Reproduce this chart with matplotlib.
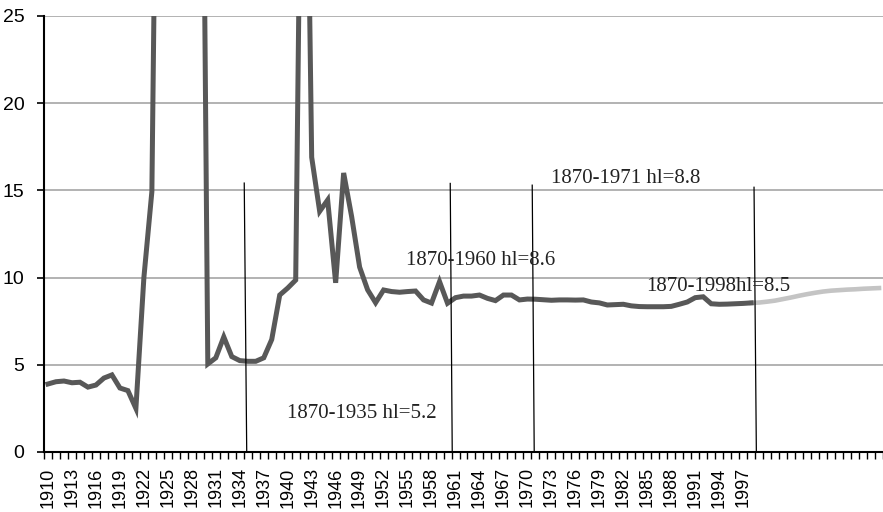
import matplotlib
matplotlib.use("Agg")
import matplotlib.pyplot as plt
import numpy as np

# observed series 1910-1998 (values above 25 run off the top of the chart)
years_obs = list(range(1910, 1999))
values_obs = [
    3.9, 4.03, 4.07, 3.97, 4.0, 3.72, 3.84, 4.24, 4.42, 3.67,   # 1910-1919
    3.52, 2.5, 10.0, 14.93, 55.0, 80.0, 100.0, 90.0, 70.0, 58.0,  # 1920-1929
    5.05, 5.4, 6.6, 5.47, 5.24, 5.2, 5.2, 5.4, 6.45, 9.0,        # 1930-1939
    9.4, 9.86, 50.0, 16.9, 13.8, 14.45, 9.7, 16.0, 13.5, 10.6,   # 1940-1949
    9.3, 8.56, 9.29, 9.2, 9.16, 9.2, 9.23, 8.72, 8.54, 9.77,     # 1950-1959
    8.53, 8.85, 8.94, 8.94, 9.0, 8.81, 8.68, 9.0, 9.0, 8.72,     # 1960-1969
    8.77, 8.76, 8.73, 8.7, 8.72, 8.72, 8.71, 8.72, 8.6, 8.55,    # 1970-1979
    8.43, 8.45, 8.47, 8.38, 8.34, 8.33, 8.33, 8.33, 8.35, 8.47,  # 1980-1989
    8.6, 8.85, 8.9, 8.5, 8.47, 8.48, 8.5, 8.52, 8.55,            # 1990-1998
]

# projected series 1998-2014
years_proj = list(range(1998, 2015))
values_proj = [
    8.55, 8.57, 8.62, 8.68, 8.77, 8.86, 8.96, 9.05, 9.13,
    9.2, 9.25, 9.28, 9.31, 9.33, 9.36, 9.38, 9.4,
]

# sample-end markers: (x top, y top, x bottom)
marker_x_top = [1934.56, 1960.34, 1970.6, 1998.36]
marker_y_top = [15.42, 15.4, 15.3, 15.18]
marker_x_bot = [1934.87, 1960.59, 1970.85, 1998.65]

# half-life annotations
note_text = ["1870-1935 hl=5.2", "1870-1960 hl=8.6", "1870-1971 hl=8.8", "1870-1998hl=8.5"]
note_x = [1939.96, 1954.85, 1973.0, 1984.85]
note_y = [1.95, 10.72, 15.42, 9.22]

label_years = list(range(1910, 1998, 3))

fig = plt.figure(figsize=(8.83, 5.12), dpi=100)
ax = fig.add_axes([44 / 883, 60 / 512, 839 / 883, 436 / 512])

for yv in [5, 10, 15, 20, 25]:
    ax.axhline(yv, color="#a6a6a6", linewidth=1.2, zorder=1)

ax.plot(years_proj, values_proj, color="#c4c4c4", linewidth=3.3, zorder=3,
        solid_joinstyle="miter")
ax.plot(years_obs, values_obs, color="#585858", linewidth=3.6, zorder=4,
        solid_joinstyle="miter")

for xt, yt, xb in zip(marker_x_top, marker_y_top, marker_x_bot):
    ax.plot([xt, xb], [yt, 0], color="black", linewidth=0.9, zorder=5)

for txt, x, y in zip(note_text, note_x, note_y):
    ax.text(x, y, txt, family="Liberation Serif", fontsize=15, color="#222222",
            ha="left", va="baseline", zorder=6)

ax.set_xlim(1909.5, 2014.1)
ax.set_ylim(0, 25)

ax.set_yticks([0, 5, 10, 15, 20, 25])
ax.set_xticks(label_years)
ax.set_xticklabels([str(y) for y in label_years], rotation=90,
                   family="Liberation Sans", fontsize=13)
ax.set_xticks(np.arange(1909.5, 2014.6, 1.0), minor=True)
ax.tick_params(axis="x", which="major", length=0, pad=11)
ax.tick_params(axis="x", which="minor", length=5, width=1.0, direction="out")
ax.tick_params(axis="y", length=5, width=1.2, direction="out", pad=9)
for lab in ax.get_yticklabels():
    lab.set_family("Liberation Sans")
    lab.set_fontsize(14)

for side in ["top", "right"]:
    ax.spines[side].set_visible(False)
for side in ["left", "bottom"]:
    ax.spines[side].set_linewidth(1.5)
    ax.spines[side].set_zorder(7)

fig.savefig("out.png", dpi=100)
